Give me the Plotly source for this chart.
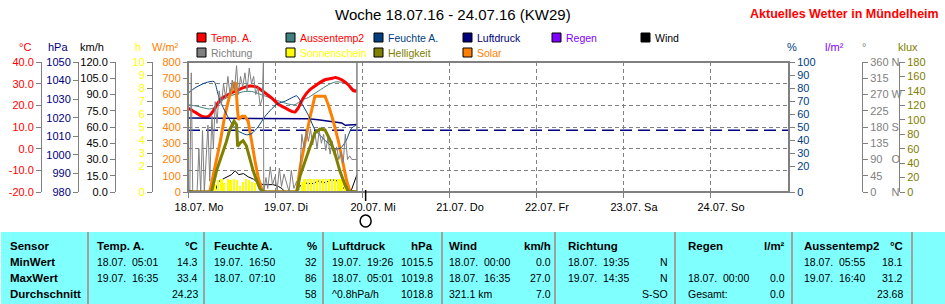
import plotly.graph_objects as go

# ---------------- data (time in hours since 18.07.16 00:00) ----------------
DAY_LABELS = ["18.07. Mo", "19.07. Di", "20.07. Mi", "21.07. Do", "22.07. Fr", "23.07. Sa", "24.07. So"]
DAY_TICKS = [0, 24, 48, 72, 96, 120, 144]

TEMP_H = [0, 1.5, 3.3, 5.0, 6.0, 7.2, 8.4, 9.7, 11.1, 13.0, 15.3, 17.1, 19.0, 21.2, 23.5, 24.9,
          26.8, 28.6, 29.5, 30.4, 31.8, 33.2, 35.5, 37.8, 40.1, 40.6, 42.4, 44.2, 45.6, 46.5]
TEMP_C = [18.8, 17.3, 15.4, 14.6, 15.4, 18.0, 21.5, 23.7, 25.0, 26.5, 28.2, 28.9, 28.4, 25.8, 22.8, 20.5,
          18.8, 17.2, 16.9, 18.8, 23.4, 26.5, 29.5, 31.8, 32.6, 32.9, 31.8, 29.5, 26.8, 26.5]

AUSSEN2_H = [0, 2.5, 5.9, 8.0, 9.3, 12.0, 15.3, 17.6, 20.3, 22.5, 24.0, 27.7, 29.5, 31.4, 33.2,
             35.9, 38.7, 40.7, 43.3, 45.2, 46.5]
AUSSEN2_C = [20.3, 19.6, 18.3, 19.5, 22.2, 24.5, 26.3, 26.4, 24.9, 23.5, 22.6, 20.6, 20.3, 22.4, 23.6,
             26.5, 29.5, 30.8, 30.4, 28.0, 27.0]

HUM_H = [0, 1.9, 4.8, 7.2, 8.3, 9.7, 12.0, 13.8, 16.2, 17.6, 19.3, 21.2, 23.1, 24.8, 26.9, 29.0,
         30.0, 31.4, 33.4, 35.0, 37.7, 40.8, 42.2, 43.7, 45.1, 46.6]
HUM_PCT = [76, 80, 84, 85, 75, 65, 53, 47, 44, 45, 50, 58, 64, 68, 70, 73,
           74, 68, 58, 48, 40, 33, 34, 40, 49, 52]

PRESS_H = [0, 5, 12, 18, 24, 30, 33.2, 35.9, 39.4, 42.4, 43.4, 45.2, 46.6]
PRESS_HPA = [1019.8, 1019.8, 1019.8, 1019.7, 1019.6, 1019.5, 1019.5, 1018.9, 1018.1, 1017.2, 1015.9, 1016.3, 1016.3]
STD_PRESSURE = 1013.25

SOLAR_H = [0, 6.0, 7.4, 8.9, 10.2, 11.5, 12.7, 13.2, 13.6, 13.9, 14.9, 15.7, 16.6, 17.5, 18.5, 19.4, 20.4, 21.4,
           30.0, 30.9, 32.3, 33.6, 35.0, 36.4, 37.8, 38.7, 40.1, 41.5, 42.8, 43.8, 44.7, 46.6]
SOLAR_WM2 = [0, 0, 150, 310, 475, 595, 670, 668, 520, 445, 466, 466, 435, 312, 189, 86, 14, 0,
             0, 148, 312, 455, 589, 589, 589, 537, 435, 312, 168, 66, 4, 0]

LUX_H = [0, 6.5, 7.9, 9.4, 10.6, 11.5, 12.7, 13.4, 13.7, 14.4, 15.2, 16.1, 17.0, 18.0, 19.0, 19.9, 20.9,
         30.0, 30.9, 32.3, 33.6, 35.0, 36.4, 37.8, 39.2, 40.6, 41.9, 43.3, 44.2, 46.6]
LUX_KLUX = [0, 0, 30, 52, 70, 86, 98, 93, 63, 68, 71, 64, 47, 29, 15, 4, 0,
            0, 22, 42, 63, 82, 87, 86, 72, 52, 29, 10, 1, 0]

WIND_H = [0, 2, 7.4, 8.4, 10.2, 12, 13, 14, 15.3, 16.6, 18, 19.4, 20.8, 22.1, 23.5, 25, 26, 26.7,
          29.5, 30.9, 32.3, 34.1, 36, 37.8, 39.6, 41.5, 42.4, 43.8, 45.1, 46.6]
WIND_KMH = [2, 0, 0, 9.5, 13, 16, 19.7, 16, 17, 14, 12, 8.3, 6.8, 6.8, 6.8, 5, 3, 0,
            0, 5.5, 8.3, 7.5, 10, 8.5, 11.4, 10, 5, 1.2, 2, 16]

DIR_H = [0, 0.5, 0.9, 1.3, 2.5, 3.0, 3.5, 4.0, 4.5, 5.5, 6.0, 6.6, 7.0, 7.5, 8.0, 8.6, 9.2, 9.8, 10.4,
         11.0, 11.6, 12.2, 12.8, 13.4, 13.9, 14.5, 15.1, 15.7, 16.3, 16.9, 17.5, 18.1, 18.7, 19.3, 19.9,
         20.5, 20.8, 20.9, 21.5, 22.0, 22.7, 23.3, 24.0, 24.6, 25.2, 25.8, 26.5, 27.2, 27.9, 28.5, 29.2,
         30.0, 30.6, 31.4, 32.0, 32.6, 33.2, 33.8, 34.4, 35.0, 35.6, 36.2, 36.8, 37.4, 38.0, 38.6, 39.2,
         39.8, 40.4, 41.0, 41.6, 42.2, 42.8, 43.4, 44.0, 44.6, 45.2, 46.0, 46.6]
DIR_DEG = [0, 0, 330, 0, 0, 120, 0, 170, 0, 185, 30, 210, 120, 250, 190, 280, 240, 300, 260,
           320, 270, 310, 280, 350, 270, 320, 290, 330, 280, 343, 300, 320, 270, 290, 240,
           260, 360, 0, 40, 10, 70, 20, 42, 5, 66, 15, 50, 25, 0, 60, 10,
           30, 5, 160, 120, 170, 140, 175, 130, 165, 120, 170, 135, 160, 115, 150, 105,
           140, 100, 125, 90, 110, 80, 160, 90, 100, 90, 90, 90]

SUN_H = [7.6, 8.4, 9.3, 10.1, 11.0, 11.8, 12.7, 13.5, 14.4, 15.2, 16.1, 16.9, 17.8, 18.6,
         31.4, 32.2, 33.1, 33.9, 34.8, 35.6, 36.5, 37.3, 38.2, 39.0, 39.9, 40.7, 41.6, 42.4, 43.3]
SUN_VAL = [0.6, 0.9, 1.0, 0.7, 1.0, 0.9, 1.0, 0.9, 0.5, 0.8, 1.0, 0.9, 0.8, 0.7,
           0.8, 1.0, 1.0, 1.0, 1.0, 1.0, 1.0, 1.0, 1.0, 1.0, 1.0, 1.0, 1.0, 1.0, 0.8]

NOW_H = 46.6
MOON_H = 49.0

# axis ticks
TEMP_TICKS = [-20, -10, 0, 10, 20, 30, 40]
TEMP_TEXT = ["-20.0", "-10.0", "0.0", "10.0", "20.0", "30.0", "40.0"]
HPA_TICKS = [980, 990, 1000, 1010, 1020, 1030, 1040, 1050]
KMH_TICKS = [0, 15, 30, 45, 60, 75, 90, 105, 120]
KMH_TEXT = ["0.0", "15.0", "30.0", "45.0", "60.0", "75.0", "90.0", "105.0", "120.0"]
SUNH_TICKS = [0, 2, 3, 4, 5, 6, 7, 8, 9, 10]
WM2_TICKS = [0, 100, 200, 300, 400, 500, 600, 700, 800]
PCT_TICKS = [0, 20, 30, 40, 50, 60, 70, 80, 90, 100]
RAIN_TICKS = [0, 1, 2, 3, 4, 5]
RAIN_TEXT = ["0.0", "1.0", "2.0", "3.0", "4.0", "5.0"]
DIR_TICKS = [0, 45, 90, 135, 180, 225, 270, 315, 360]
DIR_TEXT = ["0\u00a0\u00a0\u00a0\u00a0\u00a0N", "45", "90\u00a0\u00a0\u00a0O", "135", "180 S", "225", "270 W", "315", "360 N"]
KLUX_TICKS = [0, 20, 40, 60, 80, 100, 120, 140, 160, 180]

# table
TABLE_ROWS = ["Sensor", "MinWert", "MaxWert", "Durchschnitt"]
TABLE_COLS = [
    ("Temp. A.", "°C", [("18.07.\u00a0\u00a005:01", "14.3"), ("19.07.\u00a0\u00a016:35", "33.4"), ("", "24.23")]),
    ("Feuchte A.", "%", [("19.07.\u00a0\u00a016:50", "32"), ("18.07.\u00a0\u00a007:10", "86"), ("", "58")]),
    ("Luftdruck", "hPa", [("19.07.\u00a0\u00a019:26", "1015.5"), ("18.07.\u00a0\u00a005:01", "1019.8"), ("^0.8hPa/h", "1018.8")]),
    ("Wind", "km/h", [("18.07.\u00a0\u00a000:00", "0.0"), ("18.07.\u00a0\u00a016:35", "27.0"), ("321.1 km", "7.0")]),
    ("Richtung", "", [("18.07.\u00a0\u00a019:35", "N"), ("19.07.\u00a0\u00a014:35", "N"), ("", "S-SO")]),
    ("Regen", "l/m²", [("", ""), ("18.07.\u00a0\u00a000:00", "0.0"), ("Gesamt:", "0.0")]),
    ("Aussentemp2", "°C", [("18.07.\u00a0\u00a005:55", "18.1"), ("19.07.\u00a0\u00a016:40", "31.2"), ("", "23.68")]),
]

LEGEND_ITEMS = [
    ("Temp. A.", "#FF0000", "#FF0000"), ("Aussentemp2", "#408080", "#FF0000"),
    ("Feuchte A.", "#004080", "#004080"), ("Luftdruck", "#000080", "#000080"),
    ("Regen", "#8000FF", "#8000FF"), ("Wind", "#000000", "#000000"),
    ("Richtung", "#808080", "#808080"), ("Sonnenschein", "#FFFF00", "#FFFF00"),
    ("Helligkeit", "#808000", "#808000"), ("Solar", "#FF8000", "#FF8000"),
]

# ---------------- layout geometry (pixels) ----------------
W, H = 945, 304
PL, PR, PT, PB = 188, 789, 62, 192
HOURS_PER_PX = 24 / 87.0
XMAX = (PR - PL) * HOURS_PER_PX
FONT = "Liberation Sans, Arial, sans-serif"
GRAY = "#808080"


def fx(p):
    return p / W


def fy(p):
    return (PB - p) / (PB - PT)


fig = go.Figure()

fig.add_trace(go.Scatter(x=DIR_H, y=DIR_DEG, yaxis="y8", mode="lines",
                         line=dict(color="#808080", width=1)))
fig.add_trace(go.Bar(x=SUN_H, y=SUN_VAL, yaxis="y4", width=0.45,
                     marker=dict(color="#FFFF00", line=dict(width=0))))
fig.add_trace(go.Scatter(x=WIND_H, y=WIND_KMH, yaxis="y3", mode="lines",
                         line=dict(color="#000000", width=1)))
fig.add_trace(go.Scatter(x=[0, XMAX], y=[STD_PRESSURE, STD_PRESSURE], yaxis="y2", mode="lines",
                         line=dict(color="#000080", width=1.5, dash="12px,6px")))
fig.add_trace(go.Scatter(x=PRESS_H, y=PRESS_HPA, yaxis="y2", mode="lines",
                         line=dict(color="#000080", width=1.5)))
fig.add_trace(go.Scatter(x=HUM_H, y=HUM_PCT, yaxis="y6", mode="lines",
                         line=dict(color="#004080", width=1, shape="spline", smoothing=0.6)))
fig.add_trace(go.Scatter(x=AUSSEN2_H, y=AUSSEN2_C, yaxis="y", mode="lines",
                         line=dict(color="#408080", width=1, shape="spline", smoothing=0.6)))
fig.add_trace(go.Scatter(x=LUX_H, y=LUX_KLUX, yaxis="y9", mode="lines",
                         line=dict(color="#808000", width=3)))
fig.add_trace(go.Scatter(x=SOLAR_H, y=SOLAR_WM2, yaxis="y5", mode="lines",
                         line=dict(color="#FF8000", width=3)))
fig.add_trace(go.Scatter(x=TEMP_H, y=TEMP_C, yaxis="y", mode="lines",
                         line=dict(color="#FF0000", width=3, shape="spline", smoothing=0.6)))


def yax(pos, side, rng, tickvals, ticktext, color, **kw):
    d = dict(anchor="free", position=pos, side=side, range=rng, tickvals=tickvals,
             ticktext=ticktext, tickfont=dict(color=color, size=11, family=FONT),
             showline=True, linecolor=GRAY, linewidth=1, ticks="outside", ticklen=5,
             tickcolor=GRAY, tickwidth=1, zeroline=False, showgrid=False, fixedrange=True,
             automargin=False)
    d.update(kw)
    return d


layout_axes = dict(
    yaxis=yax(fx(41), "left", [-20, 40], TEMP_TICKS, TEMP_TEXT, "#FF0000",
              showgrid=True, gridcolor=GRAY, gridwidth=1, griddash="4px,3px", domain=[0, 1]),
    yaxis2=yax(fx(78), "left", [980, 1050], HPA_TICKS, [str(v) for v in HPA_TICKS], "#000080", overlaying="y"),
    yaxis3=yax(fx(115), "left", [0, 120], KMH_TICKS, KMH_TEXT, "#000000", overlaying="y"),
    yaxis4=yax(fx(152), "left", [0, 10], SUNH_TICKS, [str(v) for v in SUNH_TICKS], "#FFFF00", overlaying="y"),
    yaxis5=yax(fx(PL), "left", [0, 800], WM2_TICKS, [str(v) for v in WM2_TICKS], "#FF8000", overlaying="y"),
    yaxis6=yax(fx(PR), "right", [0, 100], PCT_TICKS, [str(v) for v in PCT_TICKS], "#004080", overlaying="y"),
    yaxis7=yax(fx(826), "right", [0, 5], RAIN_TICKS, RAIN_TEXT, "#8000FF", overlaying="y"),
    yaxis8=yax(fx(862), "right", [0, 360], DIR_TICKS, DIR_TEXT, "#808080", overlaying="y"),
    yaxis9=yax(fx(899), "right", [0, 180], KLUX_TICKS, [str(v) for v in KLUX_TICKS], "#808000", overlaying="y"),
)

annotations = []
shapes = []

# axis titles
AXIS_TITLES = [("°C", 25, "#FF0000"), ("hPa", 58, "#000080"), ("km/h", 92, "#000000"),
               ("h", 138, "#FFFF00"), ("W/m²", 165, "#FF8000"), ("%", 792, "#004080"),
               ("l/m²", 834, "#8000FF"), ("°", 864, "#808080"), ("klux", 908, "#808000")]
for txt, px, col in AXIS_TITLES:
    annotations.append(dict(text=txt, x=fx(px), y=fy(47), xref="paper", yref="paper",
                            xanchor="center", yanchor="middle", showarrow=False,
                            font=dict(size=11, color=col, family=FONT)))

# title
annotations.append(dict(text="Woche 18.07.16 - 24.07.16 (KW29)", x=fx(453), y=fy(15), xref="paper",
                        yref="paper", xanchor="center", yanchor="middle", showarrow=False,
                        font=dict(size=15, color="#000000", family=FONT)))
annotations.append(dict(text="<b>Aktuelles Wetter in Mündelheim</b>", x=fx(941), y=fy(14), xref="paper",
                        yref="paper", xanchor="right", yanchor="middle", showarrow=False,
                        font=dict(size=12.5, color="#FF0000", family=FONT)))

# legend
LEG_X = [197, 286, 374, 463, 552, 641]
LEG_Y = [37.5, 52.5]
for i, (lab, sq, tc) in enumerate(LEGEND_ITEMS):
    row = 0 if i < 6 else 1
    col = i if i < 6 else i - 6
    x0 = LEG_X[col]
    yc = LEG_Y[row]
    shapes.append(dict(type="rect", xref="paper", yref="paper", x0=fx(x0), x1=fx(x0 + 9),
                       y0=fy(yc - 4.5), y1=fy(yc + 4.5), fillcolor=sq,
                       line=dict(color="#000000", width=1)))
    annotations.append(dict(text=lab, x=fx(x0 + 12), y=fy(yc), xref="paper", yref="paper",
                            xanchor="left", yanchor="middle", showarrow=False,
                            font=dict(size=10.5, color=tc, family=FONT)))

# plot frame, now-line, moon marker
shapes.append(dict(type="line", xref="x", yref="paper", x0=NOW_H, x1=NOW_H, y0=0, y1=1,
                   line=dict(color=GRAY, width=1.5)))
shapes.append(dict(type="rect", xref="paper", yref="paper", x0=fx(PL), x1=fx(PR), y0=0, y1=1,
                   line=dict(color=GRAY, width=2)))
shapes.append(dict(type="line", xref="x", yref="paper", x0=MOON_H, x1=MOON_H, y0=fy(190), y1=fy(201),
                   line=dict(color="#000000", width=1.5)))
shapes.append(dict(type="circle", xref="x", xsizemode="pixel", xanchor=MOON_H, x0=-5.5, x1=5.5,
                   yref="paper", y0=fy(227), y1=fy(215), line=dict(color="#000000", width=1.5)))

# table
shapes.append(dict(type="rect", xref="paper", yref="paper", x0=fx(1), x1=fx(945), y0=fy(304), y1=fy(232),
                   fillcolor="#80FFFF", line=dict(width=0), layer="below"))
SEP_X = [88, 204, 323, 442, 555, 675, 792, 912]
for sx in SEP_X:
    shapes.append(dict(type="line", xref="paper", yref="paper", x0=fx(sx), x1=fx(sx), y0=fy(232), y1=fy(304),
                       line=dict(color="#A0A0A0", width=2)))
ROW_Y = [246, 262, 278, 294]
for r, lab in enumerate(TABLE_ROWS):
    annotations.append(dict(text=f"<b>{lab}</b>", x=fx(8), y=fy(ROW_Y[r]), xref="paper", yref="paper",
                            xanchor="left", yanchor="middle", showarrow=False,
                            font=dict(size=11.5, color="#000000", family=FONT)))
COL_L = [95, 212, 330, 447, 566, 686, 802]
COL_R = [200, 319, 435, 553, 670, 787, 905]
for c, (hl, hr, rows) in enumerate(TABLE_COLS):
    annotations.append(dict(text=f"<b>{hl}</b>", x=fx(COL_L[c]), y=fy(ROW_Y[0]), xref="paper", yref="paper",
                            xanchor="left", yanchor="middle", showarrow=False,
                            font=dict(size=11.5, color="#000000", family=FONT)))
    if hr:
        annotations.append(dict(text=f"<b>{hr}</b>", x=fx(COL_R[c]), y=fy(ROW_Y[0]), xref="paper",
                                yref="paper", xanchor="right", yanchor="middle", showarrow=False,
                                font=dict(size=11.5, color="#000000", family=FONT)))
    for r, (lt, rt) in enumerate(rows):
        if lt:
            annotations.append(dict(text=lt, x=fx(COL_L[c]), y=fy(ROW_Y[r + 1]), xref="paper", yref="paper",
                                    xanchor="left", yanchor="middle", showarrow=False,
                                    font=dict(size=10.5, color="#000000", family=FONT)))
        if rt:
            annotations.append(dict(text=rt, x=fx(COL_R[c]), y=fy(ROW_Y[r + 1]), xref="paper", yref="paper",
                                    xanchor="right", yanchor="middle", showarrow=False,
                                    font=dict(size=10.5, color="#000000", family=FONT)))

fig.update_layout(
    width=W, height=H,
    margin=dict(l=0, r=0, t=PT, b=H - PB, pad=0, autoexpand=False),
    paper_bgcolor="#FFFFFF", plot_bgcolor="#FFFFFF",
    showlegend=False, bargap=0,
    font=dict(family=FONT, size=11, color="#000000"),
    xaxis=dict(domain=[fx(PL), fx(PR)], range=[0, XMAX], tickvals=DAY_TICKS, ticktext=DAY_LABELS,
               ticks="outside", ticklen=5, tickcolor=GRAY, showline=False, zeroline=False,
               showgrid=True, gridcolor=GRAY, gridwidth=1, griddash="4px,3px", automargin=False,
               ticklabelshift=11, tickfont=dict(size=11, color="#000000", family=FONT), fixedrange=True),
    annotations=annotations, shapes=shapes,
    **layout_axes,
)

fig.write_html("out.html")
